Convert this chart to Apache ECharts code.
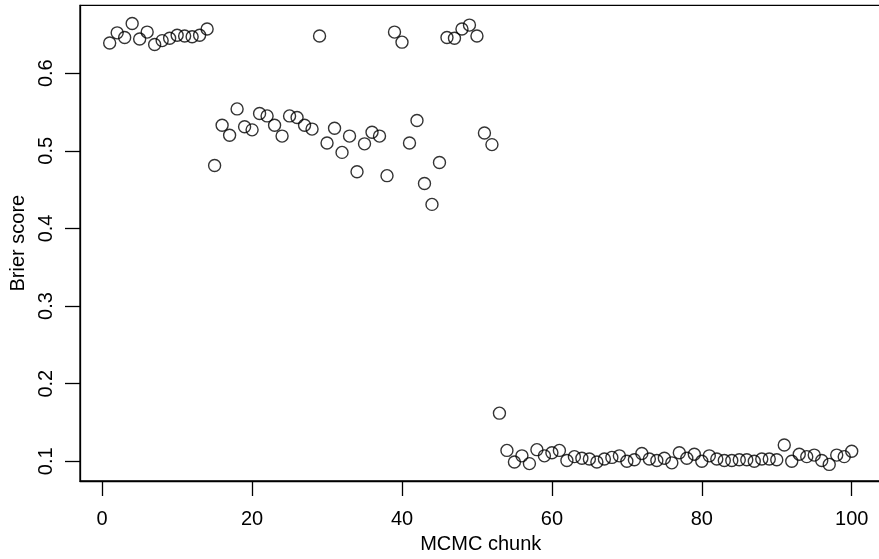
<!DOCTYPE html>
<html>
<head>
<meta charset="utf-8">
<script src="https://cdn.jsdelivr.net/npm/echarts@6/dist/echarts.min.js"></script>
<style>
html,body{margin:0;padding:0;background:#fff;overflow:hidden;width:879px;height:559px;}
#chart{width:884px;height:559px;}
</style>
</head>
<body>
<div id="chart"></div>
<script>
var chunks = [1,2,3,4,5,6,7,8,9,10,11,12,13,14,15,16,17,18,19,20,
  21,22,23,24,25,26,27,28,29,30,31,32,33,34,35,36,37,38,39,40,
  41,42,43,44,45,46,47,48,49,50,51,52,53,54,55,56,57,58,59,60,
  61,62,63,64,65,66,67,68,69,70,71,72,73,74,75,76,77,78,79,80,
  81,82,83,84,85,86,87,88,89,90,91,92,93,94,95,96,97,98,99,100];
var brier = [0.639,0.652,0.646,0.664,0.644,0.653,0.637,0.642,0.645,0.649,
  0.648,0.647,0.649,0.657,0.481,0.533,0.520,0.554,0.531,0.527,
  0.548,0.545,0.533,0.519,0.545,0.543,0.533,0.528,0.648,0.510,
  0.529,0.498,0.519,0.473,0.509,0.524,0.519,0.468,0.653,0.640,
  0.510,0.539,0.458,0.431,0.485,0.646,0.645,0.657,0.662,0.648,
  0.523,0.508,0.162,0.114,0.099,0.107,0.097,0.115,0.107,0.111,
  0.114,0.101,0.106,0.104,0.103,0.099,0.103,0.105,0.107,0.100,
  0.102,0.110,0.103,0.101,0.104,0.098,0.111,0.104,0.109,0.100,
  0.107,0.103,0.101,0.101,0.102,0.102,0.100,0.103,0.103,0.102,
  0.121,0.100,0.109,0.106,0.108,0.101,0.096,0.108,0.106,0.113];
var xTicks = [0,20,40,60,80,100];
var yTicks = [0.1,0.2,0.3,0.4,0.5,0.6];

var data = chunks.map(function(c, i){ return [c, brier[i]]; });
var font = 'Liberation Sans, Arial, Helvetica, sans-serif';
var fs = 20;

var chart = echarts.init(document.getElementById('chart'), null, {renderer:'canvas'});
chart.setOption({
  animation: false,
  backgroundColor: '#fff',
  grid: {left: 79.3, top: 5.3, right: 2.6, bottom: 77.5, show: true, borderColor: '#000', borderWidth: 1.3, backgroundColor: 'transparent'},
  xAxis: {
    type: 'value', min: -2.96, max: 103.96,
    name: 'MCMC chunk', nameLocation: 'middle', nameGap: 53,
    nameTextStyle: {fontFamily: font, fontSize: fs, color: '#000'},
    axisLine: {show: true, onZero: false, lineStyle: {color: '#000', width: 1.3}},
    axisTick: {show: true, length: 15, lineStyle: {color: '#000', width: 1.3}, customValues: xTicks},
    axisLabel: {fontFamily: font, fontSize: fs, color: '#000', margin: 28, customValues: xTicks},
    splitLine: {show: false}
  },
  yAxis: {
    type: 'value', min: 0.0746, max: 0.6875,
    name: 'Brier score', nameLocation: 'middle', nameGap: 52, nameRotate: 90,
    nameTextStyle: {fontFamily: font, fontSize: fs, color: '#000'},
    axisLine: {show: true, onZero: false, lineStyle: {color: '#000', width: 1.3}},
    axisTick: {show: true, length: 15, lineStyle: {color: '#000', width: 1.3}, customValues: yTicks},
    axisLabel: {fontFamily: font, fontSize: fs, color: '#000', margin: 24, rotate: 90, customValues: yTicks,
      formatter: function(v){ return String(Math.round(v*10)/10); }},
    splitLine: {show: false}
  },
  series: [{
    type: 'scatter',
    data: data,
    symbol: 'circle',
    symbolSize: 12,
    itemStyle: {color: 'rgba(255,255,255,0)', borderColor: '#000', borderWidth: 1.4},
    emphasis: {disabled: true}
  }]
});
</script>
</body>
</html>
